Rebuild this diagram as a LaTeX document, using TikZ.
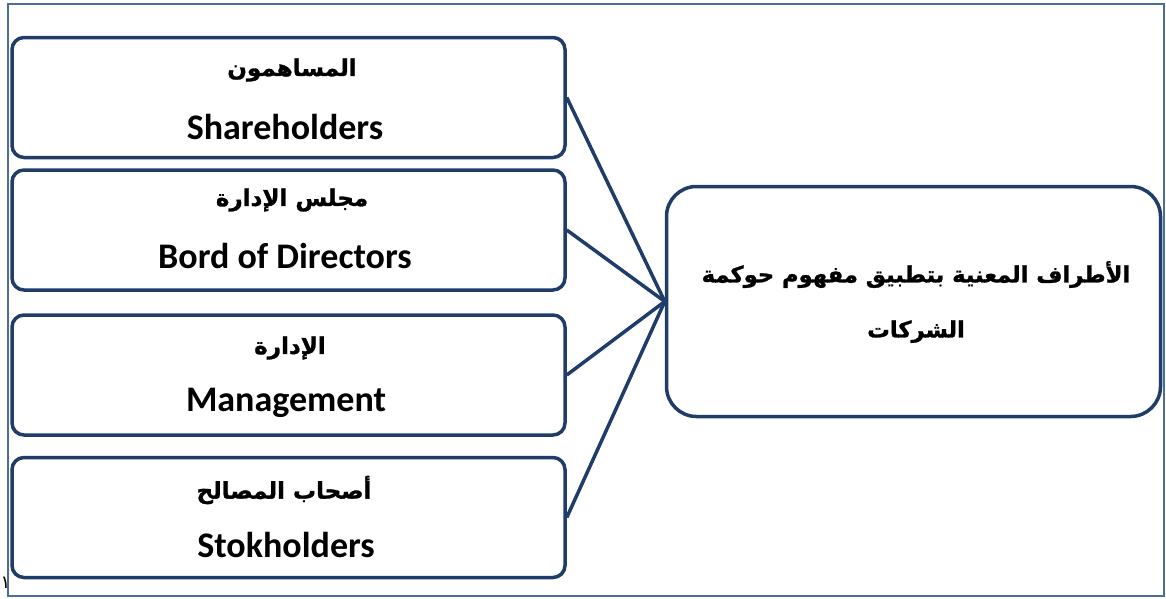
\documentclass[tikz,border=0pt]{standalone}
\usepackage{fontspec}
\setmainfont{Carlito}
\newfontfamily\arabicfont[Script=Arabic, BoldFeatures={FakeBold=1.2}]{DejaVu Sans}
\TeXXeTstate=1
\definecolor{boxblue}{HTML}{1F3D68}
\definecolor{frameblue}{HTML}{4D6C98}
\begin{document}
\begin{tikzpicture}[x=1pt,y=-1pt,
  party/.style={draw=boxblue, line width=3.5pt, rounded corners=12pt,
    minimum width=553pt, minimum height=120pt, fill=white, inner sep=0pt},
  concept/.style={draw=boxblue, line width=3.5pt, rounded corners=30pt,
    minimum width=494pt, minimum height=230pt, fill=white, inner sep=0pt},
  link/.style={draw=boxblue, line width=3.5pt},
  artext/.style={font=\arabicfont\bfseries\fontsize{23}{26}\selectfont, inner sep=0pt},
  entext/.style={font=\bfseries\fontsize{36}{40}\selectfont, inner sep=0pt},
  titletext/.style={font=\arabicfont\bfseries\fontsize{22.6}{55}\selectfont, align=center, inner sep=0pt}]
\useasboundingbox (0,0) rectangle (1166,598);
% outer frame
\draw[frameblue, line width=2pt] (8,4) rectangle (1164,596);
\node[font=\arabicfont\fontsize{18}{20}\selectfont, inner sep=0pt, anchor=west] (num) at (0.5,583) {١};

% the four parties
\node[party] (sh) at (288.5,97.5) {};
\node[party] (bd) at (288.5,230) {};
\node[party] (mg) at (288.5,375) {};
\node[party] (st) at (288.5,517.5) {};

% central concept
\node[concept] (gov) at (913.5,301.5) {};

% connectors
\draw[link] (sh.east) -- (gov.west);
\draw[link] (bd.east) -- (gov.west);
\draw[link] (mg.east) -- (gov.west);
\draw[link] (st.east) -- (gov.west);

% labels
\node[artext] (sh-ar) at (292,70) {\beginR المساهمون\endR};
\node[entext] (sh-en) at (285,127) {Shareholders};
\node[artext] (bd-ar) at (292,200) {\beginR مجلس الإدارة\endR};
\node[entext] (bd-en) at (285,256) {Bord of Directors};
\node[artext] (mg-ar) at (290,348) {\beginR الإدارة\endR};
\node[entext] (mg-en) at (286,403) {Management};
\node[artext] (st-ar) at (284,490) {\beginR أصحاب المصالح\endR};
\node[entext] (st-en) at (286,545) {Stokholders};
\node[titletext] (gov-t) at (916,302) {\beginR الأطراف المعنية بتطبيق مفهوم حوكمة\endR\\\beginR الشركات\endR};
\end{tikzpicture}
\end{document}
